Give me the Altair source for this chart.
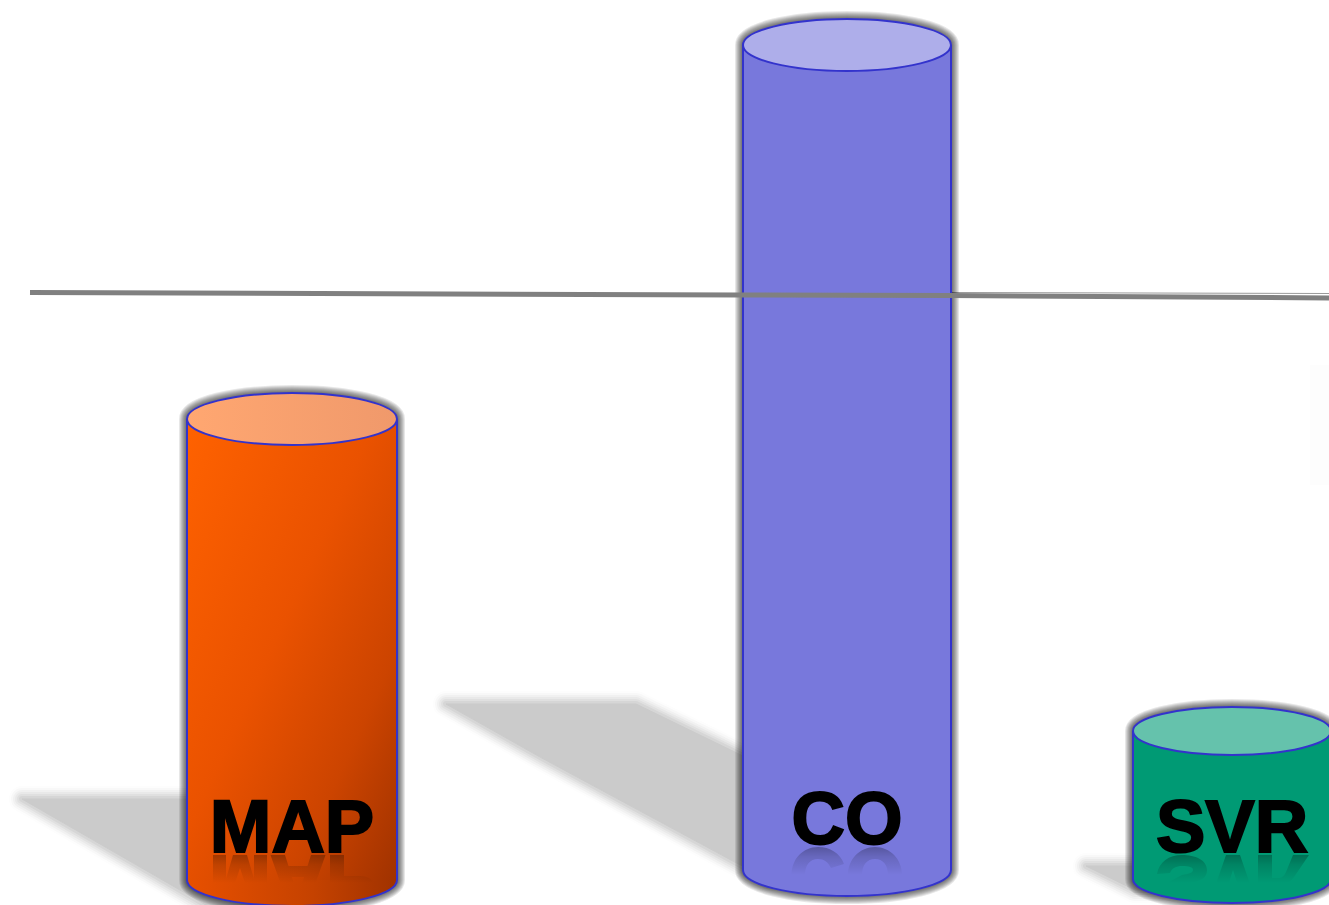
import altair as alt
import pandas as pd

# Cylinder measures, in the units of the chart's square scales
labels = ["MAP", "CO", "SVR"]
centers = [292, 847, 1232]
half_widths = [105, 104, 99]
tops = [419, 45, 731]
bottoms = [880, 870, 879]
cap_radii = [26, 26, 24]

# Reference line across the chart
line_x = [30, 740, 950, 1329]
line_y = [292.5, 295, 295.5, 298]
thin_x = [951, 1329]
thin_y = [292.5, 293.5]

# Cast shadows: rows of the sheared band, each with a left and a right edge
shadow_y = [[799, 905], [704, 757, 880], [866, 890]]
shadow_left = [[22, 206], [446, 540, 768], [1086, 1135]]
shadow_right = [[250, 300], [636, 745, 800], [1180, 1200]]

# Label placement
label_base = [852, 844, 852]

# Anchor of each letter's reflection below the labels
mirror_keys = ["M", "A", "P", "C", "O", "S", "V", "R"]
mirror_x = [240, 298, 330, 818, 875, 1182, 1233, 1258]
mirror_y = [855, 855, 855, 847, 847, 855, 855, 855]

X = alt.Scale(domain=[0, 1329], nice=False, zero=False)
Y = alt.Scale(domain=[905, 0], nice=False, zero=False)
FONT = "Liberation Sans"
EDGE = "#3333cc"
KAPPA = 0.5523

# Outlines of the flipped upper part of each letter, in pixels from its anchor
MIRROR_SHAPES = {
    "M": "M-27,0 L-14,0 L-14,28 L-27,28 Z M14,0 L27,0 L27,28 L14,28 Z "
         "M-7,0 L7,0 L14,24 L14,28 L5,28 L0,13 L-5,28 L-14,28 L-14,24 Z",
    "A": "M-27.5,0 L-13,0 L-9.5,11 L9.5,11 L13,0 L27.5,0 L17.6,28 L4,28 L6.2,22 "
         "L-6.2,22 L-4,28 L-17.6,28 Z",
    "P": "M0,0 L14,0 L14,21 L30,21 C38,21 43,25 43,28 L0,28 Z",
    "C": "M-26.5,28 C-26.5,12 -15,0 0,0 C12,0 22,6 26,17 L13,21 C10,15 6,12 0,12 "
         "C-8,12 -13,18 -13,28 Z",
    "O": "M-27,28 C-27,12 -15,0 0,0 C15,0 27,12 27,28 L13,28 C13,18 8,12 0,12 "
         "C-8,12 -13,18 -13,28 Z",
    "S": "M-25,19 L-12,18 C-10,13 -6,11 0,11 C7,11 11,12 11,15 C11,18 6,19 0,20 "
         "L-15,28 L8,28 C20,26 25,22 25,15 C25,5 13,0 0,0 C-13,0 -23,7 -25,19 Z",
    "V": "M-7,0 L7,0 L16.7,28 L4.2,28 L0,15 L-4.2,28 L-16.7,28 Z",
    "R": "M0,0 L14,0 L14,28 L0,28 Z M35,0 L51,0 L36,22 C33,26 30,28 26,28 L14,28 "
         "L14,23 L20,23 C24,23 26,21 28,17 Z",
}


def gradient(stops, x2=1, y2=0):
    return alt.LinearGradient(
        gradient="linear", x1=0, y1=0, x2=x2, y2=y2,
        stops=[alt.GradientStop(offset=o, color=c) for o, c in stops],
    )


def half_ellipse(y, e, upper):
    s = -1 if upper else 1
    a, b = (-1, 1) if upper else (1, -1)
    return (
        f"C{a},{y + s * KAPPA * e:.4f} {a * KAPPA},{y + s * e:.4f} 0,{y + s * e:.4f} "
        f"C{b * KAPPA},{y + s * e:.4f} {b},{y + s * KAPPA * e:.4f} {b},{y:.4f}"
    )


def ellipse_shape(e):
    return f"M-1,0 {half_ellipse(0, e, True)} {half_ellipse(0, e, False)} Z"


def silhouette_shape(h, e):
    return f"M-1,{-h:.4f} {half_ellipse(-h, e, True)} L1,{h:.4f} {half_ellipse(h, e, False)} Z"


def frame(**cols):
    return alt.Data(values=pd.DataFrame(cols).to_dict("records"))


layers = []

# Soft cast shadows, painted as nested outlines from pale to dark
ramp = [
    (26, "#fdfdfd"), (22, "#f8f8f8"), (18, "#f1f1f1"), (14, "#e9e9e9"),
    (10, "#e0e0e0"), (6, "#d6d6d6"), (1, "#cbcbcb"),
]
for ys, ls, rs in zip(shadow_y, shadow_left, shadow_right):
    data = frame(y=ys, l=ls, r=rs)
    for w, c in ramp:
        layers.append(
            alt.Chart(data).mark_area(
                orient="horizontal", fill=c, stroke=c, strokeWidth=w, strokeJoin="round", opacity=1
            ).encode(
                y=alt.Y("y:Q", scale=Y, axis=None),
                x=alt.X("l:Q", scale=X, axis=None),
                x2="r:Q",
            )
        )

# Faint ghost patch at the right edge
layers.append(
    alt.Chart(frame(a=[1310], b=[1329], c=[365], d=[485])).mark_rect(fill="#fdfdfd").encode(
        x=alt.X("a:Q", scale=X, axis=None), x2="b:Q",
        y=alt.Y("c:Q", scale=Y, axis=None), y2="d:Q",
    )
)

# Thin companion of the reference line, seen behind it on the right
layers.append(
    alt.Chart(frame(x=thin_x, y=thin_y)).mark_line(stroke="#9a9a9a", strokeWidth=1).encode(
        x=alt.X("x:Q", scale=X, axis=None), y=alt.Y("y:Q", scale=Y, axis=None)
    )
)

body_fills = [
    gradient([(0, "#ff6200"), (0.45, "#ea5200"), (0.75, "#cc4400"), (1, "#a03200")], x2=1, y2=1),
    "#7878dc",
    "#009a74",
]
base_fills = [gradient([(0, "#e85000"), (0.6, "#c54200"), (1, "#a03200")]), "#7878dc", "#009a74"]
cap_fills = [gradient([(0, "#ffa771"), (1, "#f0996b")]), "#aeaeea", "#65c2ac"]

for i, label in enumerate(labels):
    cx, hw, top, bot, ry = centers[i], half_widths[i], tops[i], bottoms[i], cap_radii[i]
    size = (2 * hw) ** 2
    e = ry / hw
    h = (bot - top) / 2 / hw
    px = alt.X("x:Q", scale=X, axis=None)
    py = alt.Y("y:Q", scale=Y, axis=None)

    # Dark glow around the whole cylinder outline
    mid = frame(x=[cx], y=[(top + bot) / 2])
    for w in [16, 14, 12, 10, 8, 6, 4]:
        layers.append(
            alt.Chart(mid).mark_point(
                shape=silhouette_shape(h, e), size=size, filled=False, fill="transparent",
                stroke="#000000", strokeWidth=w, strokeOpacity=0.095, opacity=1, strokeJoin="round",
            ).encode(x=px, y=py)
        )

    # Lower end of the cylinder
    layers.append(
        alt.Chart(frame(x=[cx], y=[bot])).mark_point(
            shape=ellipse_shape(e), size=size, filled=True, fill=base_fills[i],
            stroke=EDGE, strokeWidth=2, opacity=1,
        ).encode(x=px, y=py)
    )

    # Body and its two side edges
    sides = frame(a=[cx - hw], b=[cx + hw], c=[top], d=[bot])
    layers.append(
        alt.Chart(sides).mark_rect(fill=body_fills[i], strokeWidth=0, opacity=1).encode(
            x=alt.X("a:Q", scale=X, axis=None), x2="b:Q",
            y=alt.Y("c:Q", scale=Y, axis=None), y2="d:Q",
        )
    )
    for side in ("a", "b"):
        layers.append(
            alt.Chart(sides).mark_rule(stroke=EDGE, strokeWidth=2).encode(
                x=alt.X(f"{side}:Q", scale=X, axis=None),
                y=alt.Y("c:Q", scale=Y, axis=None), y2="d:Q",
            )
        )

    # Top cap
    layers.append(
        alt.Chart(frame(x=[cx], y=[top])).mark_point(
            shape=ellipse_shape(e), size=size, filled=True, fill=cap_fills[i],
            stroke=EDGE, strokeWidth=2, opacity=1,
        ).encode(x=px, y=py)
    )

# Reference line passes in front of the cylinders
layers.append(
    alt.Chart(frame(x=line_x, y=line_y)).mark_line(stroke="#808080", strokeWidth=5).encode(
        x=alt.X("x:Q", scale=X, axis=None), y=alt.Y("y:Q", scale=Y, axis=None)
    )
)

# Letter reflections fading out under the labels
fade = gradient([(0, "rgba(0,0,0,0.28)"), (0.35, "rgba(0,0,0,0.14)"), (1, "rgba(0,0,0,0)")], x2=0, y2=1)
for key, mx, my in zip(mirror_keys, mirror_x, mirror_y):
    layers.append(
        alt.Chart(frame(x=[mx], y=[my])).mark_point(
            shape=MIRROR_SHAPES[key], size=4, filled=True, fill=fade, strokeWidth=0, opacity=1,
        ).encode(x=alt.X("x:Q", scale=X, axis=None), y=alt.Y("y:Q", scale=Y, axis=None))
    )

# Cylinder labels
layers.append(
    alt.Chart(frame(t=labels, x=centers, y=label_base)).mark_text(
        font=FONT, fontWeight="bold", fontSize=74, align="center", baseline="alphabetic",
        color="#000000", stroke="#000000", strokeWidth=2,
    ).encode(x=alt.X("x:Q", scale=X, axis=None), y=alt.Y("y:Q", scale=Y, axis=None), text="t:N")
)

chart = (
    alt.layer(*layers)
    .properties(width=1329, height=905, padding=0, autosize=alt.AutoSizeParams(type="none"), background="#ffffff")
    .configure_view(stroke=None)
)

chart.save("out.html", embed_options={"renderer": "svg", "actions": False})
